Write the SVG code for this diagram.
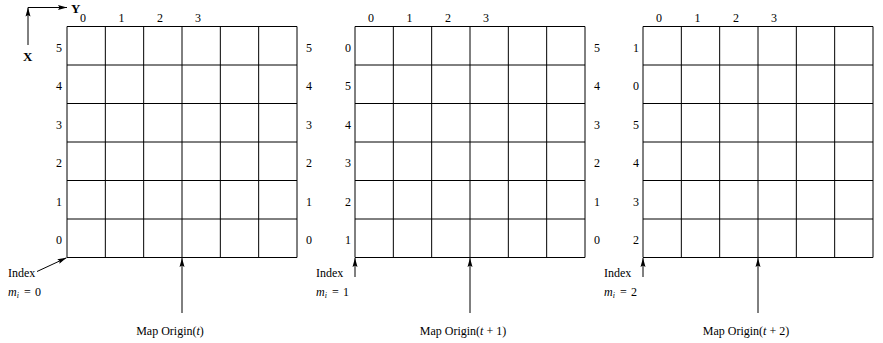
<svg xmlns="http://www.w3.org/2000/svg" width="883" height="343" viewBox="0 0 883 343" font-family="'Liberation Serif', 'DejaVu Serif', serif">
<style>
text{font-family:'Liberation Serif','DejaVu Serif',serif;font-size:12px;fill:#000}
.c{text-anchor:middle}
.it{font-style:italic}
.b{font-weight:bold;font-size:13px}
.grid{fill:none;stroke:#000;stroke-width:1}
.arr{fill:none;stroke:#000;stroke-width:1;marker-end:url(#ah)}
</style>
<defs>
<marker id="ah" markerUnits="userSpaceOnUse" markerWidth="10" markerHeight="6" refX="9" refY="3" orient="auto">
<path d="M0,0.5 L9,3 L0,5.5 L1.5,3 z" fill="#000"/>
</marker>
</defs>
<g id="axes">
<path class="arr" d="M28,45 L28,7.5"/>
<path class="arr" d="M28,7.5 L67,7.5"/>
<text class="b" x="71" y="12.5">Y</text>
<text class="b" x="23" y="61">X</text>
</g>
<g id="grid1">
<path class="grid" d="M67,26.5H297M67,65H297M67,103.5H297M67,142H297M67,180.5H297M67,219H297M67,257.5H297M67,26.5V257.5M105.33,26.5V257.5M143.67,26.5V257.5M182,26.5V257.5M220.33,26.5V257.5M258.67,26.5V257.5M297,26.5V257.5"/>
<g class="c">
<text x="83" y="22">0</text><text x="121.5" y="22">1</text><text x="160" y="22">2</text><text x="198" y="22">3</text>
<text x="59" y="51.5">5</text><text x="59" y="90">4</text><text x="59" y="128.5">3</text><text x="59" y="167">2</text><text x="59" y="205.5">1</text><text x="59" y="244">0</text>
<text x="309" y="51.5">5</text><text x="309" y="90">4</text><text x="309" y="128.5">3</text><text x="309" y="167">2</text><text x="309" y="205.5">1</text><text x="309" y="244">0</text>
</g>
<text x="8" y="277">Index</text>
<text x="8" y="296"><tspan class="it">m</tspan><tspan class="it" font-size="8" dy="2">i</tspan><tspan dy="-2" x="24">=</tspan><tspan x="35">0</tspan></text>
<text class="c" x="170" y="335">Map Origin(<tspan class="it">t</tspan>)</text>
</g>
<g id="grid2">
<path class="grid" d="M355,26.5H585M355,65H585M355,103.5H585M355,142H585M355,180.5H585M355,219H585M355,257.5H585M355,26.5V257.5M393.33,26.5V257.5M431.67,26.5V257.5M470,26.5V257.5M508.33,26.5V257.5M546.67,26.5V257.5M585,26.5V257.5"/>
<g class="c">
<text x="371" y="22">0</text><text x="409.5" y="22">1</text><text x="448" y="22">2</text><text x="486" y="22">3</text>
<text x="348" y="51.5">0</text><text x="348" y="90">5</text><text x="348" y="128.5">4</text><text x="348" y="167">3</text><text x="348" y="205.5">2</text><text x="348" y="244">1</text>
<text x="597" y="51.5">5</text><text x="597" y="90">4</text><text x="597" y="128.5">3</text><text x="597" y="167">2</text><text x="597" y="205.5">1</text><text x="597" y="244">0</text>
</g>
<text x="316" y="277">Index</text>
<text x="316" y="296"><tspan class="it">m</tspan><tspan class="it" font-size="8" dy="2">i</tspan><tspan dy="-2" x="332">=</tspan><tspan x="343">1</tspan></text>
<text class="c" x="463" y="335">Map Origin(<tspan class="it">t</tspan> + 1)</text>
</g>
<g id="grid3">
<path class="grid" d="M643,26.5H873M643,65H873M643,103.5H873M643,142H873M643,180.5H873M643,219H873M643,257.5H873M643,26.5V257.5M681.33,26.5V257.5M719.67,26.5V257.5M758,26.5V257.5M796.33,26.5V257.5M834.67,26.5V257.5M873,26.5V257.5"/>
<g class="c">
<text x="659" y="22">0</text><text x="697.5" y="22">1</text><text x="736" y="22">2</text><text x="774" y="22">3</text>
<text x="636" y="51.5">1</text><text x="636" y="90">0</text><text x="636" y="128.5">5</text><text x="636" y="167">4</text><text x="636" y="205.5">3</text><text x="636" y="244">2</text>
</g>
<text x="604" y="277">Index</text>
<text x="604" y="296"><tspan class="it">m</tspan><tspan class="it" font-size="8" dy="2">i</tspan><tspan dy="-2" x="620">=</tspan><tspan x="631">2</tspan></text>
<text class="c" x="746" y="335">Map Origin(<tspan class="it">t</tspan> + 2)</text>
</g>
<g id="connectors">
<path class="arr" d="M37,271.5 L66.5,257.8"/>
<path class="arr" d="M355,277 L355,258"/>
<path class="arr" d="M643,277 L643,258"/>
<path class="arr" d="M182,313 L182,258"/>
<path class="arr" d="M470,313 L470,258"/>
<path class="arr" d="M758,313 L758,258"/>
</g>
</svg>
